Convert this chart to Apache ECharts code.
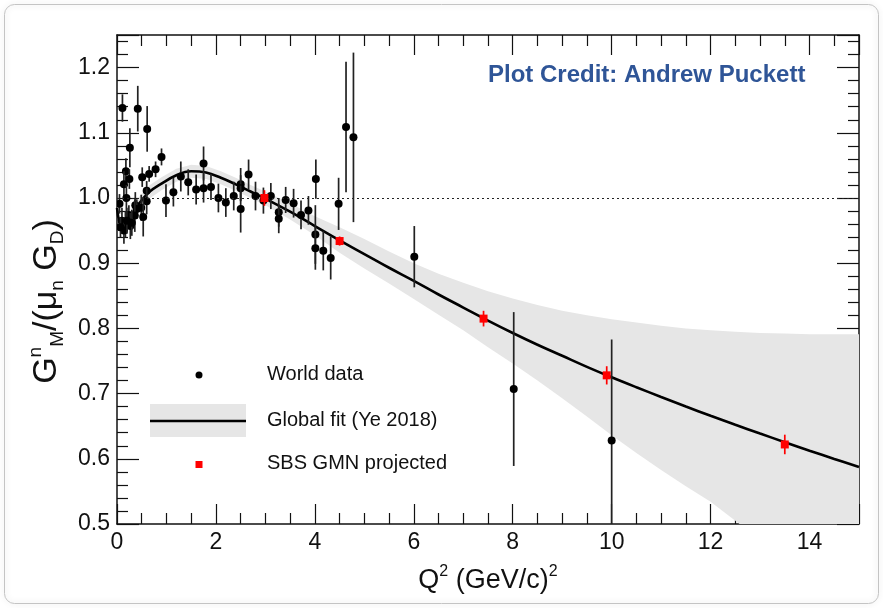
<!DOCTYPE html>
<html>
<head>
<meta charset="utf-8">
<script src="https://cdn.jsdelivr.net/npm/echarts@6/dist/echarts.min.js"></script>
<style>
  html, body { margin: 0; padding: 0; background: #fff; }
  #main { width: 883px; height: 608px; }
</style>
</head>
<body>
<div id="main"></div>
<script>
// world data: [Q2, GMn/(mu_n GD), error]
const worldData = [
  [0.11, 1.138, 0.021], [0.42, 1.137, 0.035], [0.61, 1.106, 0.035], [0.26, 1.077, 0.03],
  [0.9, 1.063, 0.013], [0.78, 1.044, 0.012], [0.65, 1.037, 0.012], [0.51, 1.032, 0.015],
  [0.18, 1.041, 0.02], [0.25, 1.029, 0.015], [0.14, 1.021, 0.02], [0.6, 1.011, 0.015],
  [0.6, 0.995, 0.02], [0.19, 1.0, 0.02], [0.05, 0.991, 0.015], [0.37, 0.989, 0.02],
  [0.49, 0.985, 0.02], [0.4, 0.983, 0.015], [0.36, 0.973, 0.025], [0.53, 0.971, 0.03],
  [0.24, 0.974, 0.015], [0.1, 0.965, 0.02], [0.17, 0.96, 0.02], [0.27, 0.957, 0.02],
  [0.14, 0.95, 0.02], [0.07, 0.955, 0.015], [0.2, 0.965, 0.02], [0.3, 0.962, 0.02],
  [0.99, 0.996, 0.025], [1.14, 1.009, 0.022], [1.29, 1.033, 0.023], [1.44, 1.024, 0.02],
  [1.6, 1.013, 0.023], [1.75, 1.053, 0.026], [1.75, 1.015, 0.022], [1.9, 1.017, 0.02],
  [2.05, 1.0, 0.022], [2.2, 0.993, 0.022], [2.36, 1.003, 0.022], [2.5, 1.021, 0.025],
  [2.5, 1.015, 0.02], [2.5, 0.983, 0.036], [2.66, 1.036, 0.023], [2.8, 1.003, 0.022],
  [2.96, 0.996, 0.02], [3.11, 1.003, 0.02], [3.27, 0.978, 0.022], [3.27, 0.968, 0.022],
  [3.41, 0.997, 0.02], [3.57, 0.992, 0.022], [3.72, 0.974, 0.022], [3.87, 0.981, 0.022],
  [4.02, 1.029, 0.03], [4.01, 0.944, 0.045], [4.01, 0.923, 0.033], [4.17, 0.919, 0.03],
  [4.32, 0.908, 0.033], [4.48, 0.991, 0.04], [4.63, 1.109, 0.1], [4.78, 1.093, 0.13],
  [6.01, 0.91, 0.047], [8.02, 0.707, 0.118], [10.0, 0.628, 0.155]
];

// SBS GMN projected: [Q2, value, error]
const sbsData = [
  [2.98, 1.0, 0.012], [4.5, 0.934, 0.007], [7.41, 0.815, 0.012],
  [9.9, 0.728, 0.014], [13.5, 0.622, 0.015]
];

// global fit (Ye 2018) and its uncertainty band
const fitQ2 = [0, 0.05, 0.1, 0.2, 0.3, 0.45, 0.65, 0.9, 1.2, 1.5, 1.8, 2.1, 2.4, 2.7, 3.0,
  3.5, 4.0, 4.5, 5.0, 5.5, 6.0, 6.5, 7.0, 7.5, 8.0, 8.5, 9.0, 9.5, 10.0, 10.5, 11.0,
  11.5, 12.0, 12.5, 13.0, 13.5, 14.0, 14.5, 15.0];
const fitVal = [0.985, 0.962, 0.955, 0.962, 0.975, 0.992, 1.009, 1.022, 1.035, 1.041, 1.039,
  1.031, 1.021, 1.01, 0.999, 0.979, 0.957, 0.935, 0.914, 0.893, 0.873, 0.852, 0.832,
  0.812, 0.793, 0.775, 0.758, 0.741, 0.725, 0.7097, 0.6948, 0.6802, 0.666, 0.6522, 0.6387,
  0.6255, 0.6125, 0.5998, 0.5873];
const bandHi = [0.995, 0.972, 0.965, 0.972, 0.985, 1.002, 1.019, 1.032, 1.045, 1.051, 1.049,
  1.041, 1.031, 1.02, 1.01, 0.992, 0.972, 0.955, 0.937, 0.918, 0.9, 0.884, 0.87, 0.857,
  0.846, 0.836, 0.827, 0.82, 0.814, 0.809, 0.804, 0.8, 0.797, 0.795, 0.793, 0.792,
  0.791, 0.791, 0.791];
const bandLo = [0.975, 0.952, 0.945, 0.952, 0.965, 0.982, 0.999, 1.012, 1.025, 1.031, 1.029,
  1.021, 1.011, 1.0, 0.989, 0.967, 0.943, 0.916, 0.892, 0.869, 0.845, 0.821, 0.797,
  0.771, 0.746, 0.72, 0.693, 0.665, 0.636, 0.609, 0.583, 0.558, 0.534, 0.505, 0.476,
  0.447, 0.418, 0.389, 0.36];

const FONT = '"Liberation Sans", Arial, Helvetica, sans-serif';

const chart = echarts.init(document.getElementById('main'));

function richFor(big, small) {
  return {
    m: { fontSize: big, lineHeight: big + 7, fontFamily: FONT, color: '#111' },
    sup: { fontSize: small, lineHeight: small, verticalAlign: 'top', fontFamily: FONT, color: '#111' },
    sub: { fontSize: small, lineHeight: small, verticalAlign: 'bottom', fontFamily: FONT, color: '#111' }
  };
}

function errRender(color, isSquare) {
  return function (params, api) {
    const x = api.value(0), y = api.value(1), e = api.value(2);
    const c = api.coord([x, y]);
    const t = api.coord([x, y + e]);
    const b = api.coord([x, y - e]);
    const mark = isSquare
      ? { type: 'rect', shape: { x: c[0] - 4, y: c[1] - 4, width: 8, height: 8 }, style: { fill: color } }
      : { type: 'circle', shape: { cx: c[0], cy: c[1], r: 4 }, style: { fill: color } };
    return {
      type: 'group',
      children: [
        { type: 'line', shape: { x1: c[0], y1: t[1], x2: c[0], y2: b[1] },
          style: { stroke: isSquare ? color : '#222', lineWidth: 1.7 } },
        mark
      ]
    };
  };
}

const axisCommon = {
  axisLine: { show: true, onZero: false, lineStyle: { color: '#111', width: 1.5 } },
  splitLine: { show: false }
};

const option = {
  animation: false,
  backgroundColor: '#fff',
  title: {
    text: 'Plot Credit: Andrew Puckett',
    left: 483, top: 58,
    textStyle: { color: '#2f5597', fontSize: 24, fontWeight: 'bold', fontFamily: FONT }
  },
  grid: { left: 117, right: 24, top: 35, bottom: 84 },
  xAxis: [{
    type: 'value', min: 0, max: 15, interval: 2, position: 'bottom',
    ...axisCommon,
    axisTick: { inside: true, length: 20, lineStyle: { color: '#111', width: 1.2 } },
    minorTick: { show: true, splitNumber: 4, length: 11, lineStyle: { color: '#111', width: 1.2 } },
    axisLabel: { fontSize: 23, color: '#111', fontFamily: FONT, margin: 7, showMaxLabel: false },
    name: '{m|Q}{sup|2}{m| (GeV/c)}{sup|2}',
    nameLocation: 'middle', nameGap: 40,
    nameTextStyle: { rich: richFor(27, 16) }
  }, {
    type: 'value', min: 0, max: 15, interval: 2, position: 'top',
    ...axisCommon,
    axisTick: { inside: true, length: 20, lineStyle: { color: '#111', width: 1.2 } },
    minorTick: { show: true, splitNumber: 4, length: 11, lineStyle: { color: '#111', width: 1.2 } },
    axisLabel: { show: false }
  }],
  yAxis: [{
    type: 'value', min: 0.5, max: 1.25, interval: 0.1, position: 'left',
    ...axisCommon,
    axisTick: { inside: true, length: 22, lineStyle: { color: '#111', width: 1.2 } },
    minorTick: { show: true, splitNumber: 5, length: 11, lineStyle: { color: '#111', width: 1.2 } },
    axisLabel: { fontSize: 23, color: '#111', fontFamily: FONT, margin: 7, showMaxLabel: false,
      formatter: v => v.toFixed(1) },
    name: '{m|G}{sup|n}{sub|M}{m|/(μ}{sub|n}{m| G}{sub|D}{m|)}',
    nameLocation: 'middle', nameGap: 50, nameRotate: 90,
    nameTextStyle: { rich: richFor(34, 19), padding: [0, 44, 0, 0] }
  }, {
    type: 'value', min: 0.5, max: 1.25, interval: 0.1, position: 'right',
    ...axisCommon,
    axisTick: { inside: true, length: 22, lineStyle: { color: '#111', width: 1.2 } },
    minorTick: { show: true, splitNumber: 5, length: 11, lineStyle: { color: '#111', width: 1.2 } },
    axisLabel: { show: false }
  }],
  series: [
    {
      name: 'band', type: 'custom', clip: true, silent: true, z: 1,
      data: [[fitQ2[0], fitVal[0]]],
      renderItem: function (params, api) {
        const pts = [];
        for (let i = 0; i < fitQ2.length; i++) pts.push(api.coord([fitQ2[i], bandHi[i]]));
        for (let i = fitQ2.length - 1; i >= 0; i--) pts.push(api.coord([fitQ2[i], bandLo[i]]));
        return { type: 'polygon', shape: { points: pts }, style: { fill: '#e6e6e6' } };
      }
    },
    {
      name: 'Global fit (Ye 2018)', type: 'line', z: 3, smooth: 0.4,
      symbol: 'none', clip: true,
      data: fitQ2.map((q, i) => [q, fitVal[i]]),
      lineStyle: { color: '#000', width: 2.6 },
      markLine: {
        silent: true, symbol: 'none', label: { show: false },
        lineStyle: { color: '#222', width: 1, type: [2, 3] },
        data: [{ yAxis: 1 }]
      }
    },
    {
      name: 'World data', type: 'custom', z: 4, clip: true,
      data: worldData,
      encode: { x: 0, y: 1 },
      renderItem: errRender('#000', false)
    },
    {
      name: 'SBS GMN projected', type: 'custom', z: 5, clip: true,
      data: sbsData,
      encode: { x: 0, y: 1 },
      renderItem: errRender('#ff0000', true)
    }
  ],
  graphic: [
    { type: 'rect', silent: true, z: -1,
      shape: { x: 4.5, y: 4.5, width: 874, height: 599, r: 10 },
      style: { fill: 'none', stroke: '#c4c4c4', lineWidth: 1, shadowBlur: 6, shadowColor: 'rgba(0,0,0,0.2)' } },
    // legend
    { type: 'circle', shape: { cx: 199, cy: 375, r: 3.5 }, style: { fill: '#000' } },
    { type: 'text', left: 267, top: 364,
      style: { text: 'World data', fontSize: 20, fontFamily: FONT, fill: '#111' } },
    { type: 'rect', shape: { x: 150, y: 404, width: 96, height: 33 }, style: { fill: '#e6e6e6' } },
    { type: 'line', shape: { x1: 150, y1: 421, x2: 246, y2: 421 }, style: { stroke: '#000', lineWidth: 2.6 } },
    { type: 'text', left: 267, top: 410,
      style: { text: 'Global fit (Ye 2018)', fontSize: 20, fontFamily: FONT, fill: '#111' } },
    { type: 'rect', shape: { x: 195.5, y: 461, width: 7, height: 7 }, style: { fill: '#ff0000' } },
    { type: 'text', left: 267, top: 453,
      style: { text: 'SBS GMN projected', fontSize: 20, fontFamily: FONT, fill: '#111' } }
  ]
};

chart.setOption(option);
</script>
</body>
</html>
